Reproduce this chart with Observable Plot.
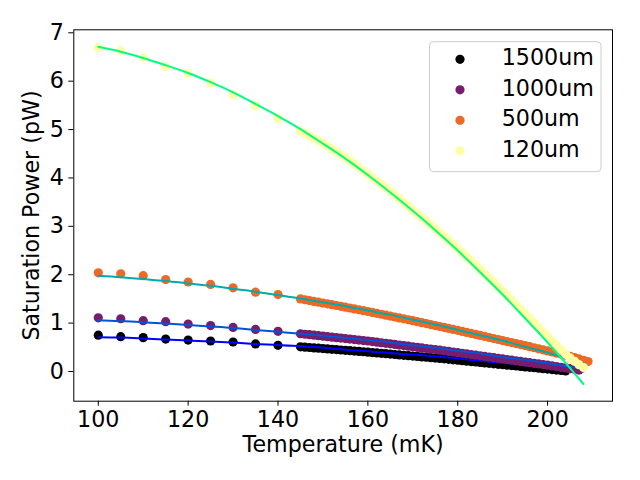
<!DOCTYPE html>
<html>
<head>
<meta charset="utf-8">
<script src="https://cdn.jsdelivr.net/npm/d3@7"></script>
<script src="https://cdn.jsdelivr.net/npm/@observablehq/plot@0.6"></script>
<style>
  html, body { margin: 0; padding: 0; background: white; }
  #chart { position: relative; width: 640px; height: 480px; }
</style>
</head>
<body>
<div id="chart"></div>
<script>
// ---- data ----
const labels = ["1500um", "1000um", "500um", "120um"];
const dotColors = ["#000004", "#781c6d", "#ed6925", "#fcffa4"];
const fitColors = ["#0000ff", "#0055d4", "#00aaaa", "#00ff80"];

const sparseT = [100, 105, 110, 115, 120, 125, 130, 135, 140];
const sparse1500 = [0.75, 0.72, 0.70, 0.67, 0.65, 0.63, 0.61, 0.57, 0.54];
const sparse1000 = [1.11, 1.09, 1.05, 1.03, 0.98, 0.95, 0.91, 0.87, 0.83];
const sparse500  = [2.04, 2.02, 1.98, 1.90, 1.85, 1.80, 1.73, 1.64, 1.59];
const sparse120  = [6.69, 6.63, 6.49, 6.30, 6.16, 5.96, 5.72, 5.50, 5.23];

const denseT = [145, 146, 147, 148, 149, 150, 151, 152, 153, 154, 155, 156, 157, 158, 159,
  160, 161, 162, 163, 164, 165, 166, 167, 168, 169, 170, 171, 172, 173, 174, 175, 176, 177,
  178, 179, 180, 181, 182, 183, 184, 185, 186, 187, 188, 189, 190, 191, 192, 193, 194, 195,
  196, 197, 198, 199, 200, 201, 202, 203, 204, 205, 206, 207, 208, 209];
const dense1500 = [0.51, 0.503, 0.496, 0.488, 0.481, 0.474, 0.466, 0.459, 0.452, 0.444, 0.437,
  0.430, 0.422, 0.415, 0.408, 0.400, 0.392, 0.384, 0.376, 0.368, 0.359, 0.351, 0.343, 0.335,
  0.327, 0.319, 0.311, 0.302, 0.294, 0.286, 0.278, 0.270, 0.261, 0.252, 0.242, 0.233, 0.224,
  0.214, 0.205, 0.196, 0.186, 0.177, 0.168, 0.158, 0.149, 0.140, 0.131, 0.122, 0.113, 0.104,
  0.095, 0.086, 0.077, 0.068, 0.059, 0.050, 0.040, 0.030, 0.020, 0.010];
const dense1000 = [0.78, 0.77, 0.76, 0.75, 0.74, 0.73, 0.72, 0.71, 0.70, 0.69, 0.68, 0.67, 0.66,
  0.65, 0.64, 0.63, 0.618, 0.606, 0.594, 0.582, 0.571, 0.559, 0.547, 0.535, 0.523, 0.511, 0.499,
  0.487, 0.475, 0.464, 0.452, 0.440, 0.427, 0.414, 0.401, 0.388, 0.375, 0.363, 0.350, 0.337,
  0.324, 0.311, 0.298, 0.285, 0.272, 0.260, 0.247, 0.234, 0.221, 0.208, 0.195, 0.182, 0.169,
  0.156, 0.143, 0.130, 0.116, 0.102, 0.087, 0.073, 0.059, 0.044, 0.030];
const dense500 = [1.500, 1.483, 1.466, 1.449, 1.432, 1.415, 1.398, 1.381, 1.364, 1.347, 1.330,
  1.312, 1.294, 1.276, 1.258, 1.240, 1.221, 1.202, 1.183, 1.164, 1.145, 1.126, 1.107, 1.088,
  1.069, 1.050, 1.030, 1.010, 0.990, 0.970, 0.950, 0.930, 0.910, 0.890, 0.870, 0.850, 0.829,
  0.808, 0.787, 0.766, 0.745, 0.724, 0.703, 0.682, 0.661, 0.640, 0.619, 0.598, 0.577, 0.556,
  0.535, 0.513, 0.491, 0.469, 0.447, 0.425, 0.403, 0.381, 0.359, 0.337, 0.315, 0.287, 0.260,
  0.232, 0.205];
const dense120 = [4.97, 4.92, 4.87, 4.82, 4.77, 4.72, 4.66, 4.60, 4.54, 4.48, 4.42, 4.352, 4.284,
  4.216, 4.148, 4.08, 4.008, 3.936, 3.864, 3.792, 3.72, 3.644, 3.568, 3.492, 3.416, 3.34, 3.262,
  3.184, 3.106, 3.028, 2.95, 2.868, 2.786, 2.704, 2.622, 2.54, 2.454, 2.368, 2.282, 2.196, 2.11,
  2.02, 1.93, 1.84, 1.75, 1.66, 1.566, 1.472, 1.378, 1.284, 1.19, 1.096, 1.002, 0.908, 0.814,
  0.72, 0.627, 0.533, 0.44, 0.36, 0.28, 0.21, 0.14, 0.08];

const fitT = [100, 105, 110, 115, 120, 125, 130, 135, 140, 145, 150, 155, 160, 165, 170, 175,
  180, 185, 190, 195, 200, 205, 208];
const fit1500 = [0.71, 0.70, 0.68, 0.66, 0.64, 0.62, 0.60, 0.57, 0.55, 0.52, 0.49, 0.45, 0.42,
  0.38, 0.35, 0.31, 0.27, 0.22, 0.18, 0.13, 0.08, 0.03, 0.00];
const fit1000 = [1.06, 1.04, 1.02, 0.99, 0.96, 0.93, 0.90, 0.86, 0.82, 0.78, 0.74, 0.69, 0.65,
  0.60, 0.54, 0.49, 0.43, 0.37, 0.30, 0.24, 0.17, 0.10, 0.06];
const fit500 = [1.98, 1.95, 1.91, 1.87, 1.82, 1.77, 1.71, 1.65, 1.58, 1.51, 1.43, 1.35, 1.26,
  1.17, 1.07, 0.97, 0.86, 0.75, 0.64, 0.51, 0.39, 0.25, 0.17];
const fit120 = [6.71, 6.61, 6.48, 6.33, 6.17, 5.98, 5.77, 5.53, 5.28, 5.01, 4.71, 4.40, 4.06,
  3.70, 3.32, 2.92, 2.50, 2.05, 1.59, 1.10, 0.60, 0.07, -0.26];

const xTicks = [100, 120, 140, 160, 180, 200];
const yTicks = [0, 1, 2, 3, 4, 5, 6, 7];

// ---- build tables ----
const sparseAll = [sparse1500, sparse1000, sparse500, sparse120];
const denseAll = [dense1500, dense1000, dense500, dense120];
const fitAll = [fit1500, fit1000, fit500, fit120];

const seriesMarks = [];
labels.forEach((lab, i) => {
  const pts = sparseT.map((t, j) => ({t, p: sparseAll[i][j]}))
    .concat(denseAll[i].map((p, j) => ({t: denseT[j], p})));
  const fit = fitT.map((t, j) => ({t, p: fitAll[i][j]}));
  seriesMarks.push(Plot.dot(pts, {x: "t", y: "p", r: 4.6, fill: dotColors[i]}));
  seriesMarks.push(Plot.line(fit, {x: "t", y: "p", stroke: fitColors[i], strokeWidth: 2, curve: "natural"}));
});

const FONT = "DejaVu Sans";
const FS = "22.2px";
const plot = Plot.plot({
  width: 640,
  height: 480,
  marginLeft: 73.3,
  marginRight: 28,
  marginTop: 29.3,
  marginBottom: 79.3,
  x: {domain: [94.55, 214.45]},
  y: {domain: [-0.614, 7.062]},
  style: {fontFamily: FONT, fontSize: FS, color: "black", background: "white", overflow: "visible"},
  marks: [
    ...seriesMarks,
    Plot.frame({stroke: "black", strokeWidth: 1}),
    Plot.axisX({ticks: xTicks, tickSize: 5, tickPadding: 5, label: null, fontSize: FS}),
    Plot.axisY({ticks: yTicks, tickSize: 5, tickPadding: 5, label: null, fontSize: FS}),
    Plot.text(["Temperature (mK)"], {frameAnchor: "bottom", dy: 51.2, textAnchor: "middle", lineAnchor: "bottom", fontSize: FS}),
    Plot.text(["Saturation Power (pW)"], {frameAnchor: "left", dx: -41.5, rotate: -90, textAnchor: "middle", fontSize: FS})
  ]
});

document.getElementById("chart").appendChild(plot);

// ---- legend ----
const svg = d3.select(plot);
const lg = svg.append("g").attr("font-family", FONT).attr("font-size", FS);
lg.append("rect")
  .attr("x", 429.5).attr("y", 41.7).attr("width", 171.5).attr("height", 130)
  .attr("rx", 4).attr("fill", "white").attr("fill-opacity", 0.8)
  .attr("stroke", "#cccccc").attr("stroke-width", 1);
labels.forEach((lab, i) => {
  const y = 59.3 + i * 30.5;
  lg.append("circle").attr("cx", 460).attr("cy", y).attr("r", 4.6).attr("fill", dotColors[i]);
  lg.append("text").attr("x", 501.7).attr("y", y + 5.8).attr("text-anchor", "start")
    .attr("fill", "black").text(lab);
});
</script>
</body>
</html>
